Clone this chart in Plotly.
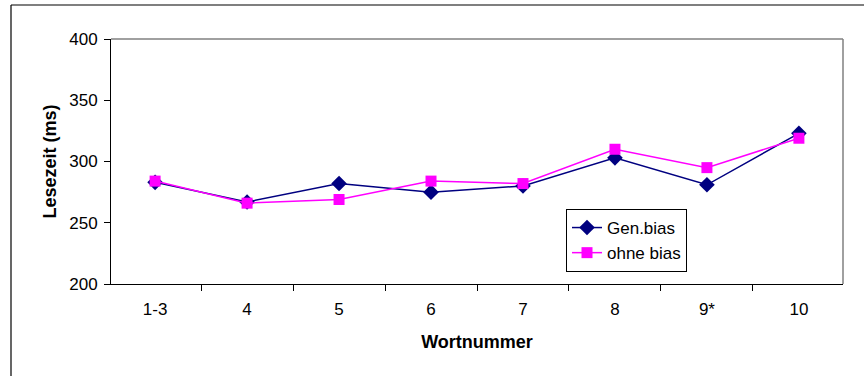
import plotly.graph_objects as go

categories = ["1-3", "4", "5", "6", "7", "8", "9*", "10"]
gen_bias = [283, 267, 282, 275, 280, 303, 281, 323]
ohne_bias = [284, 266, 269, 284, 282, 310, 295, 319]
y_ticks = [200, 250, 300, 350, 400]

W, H = 864, 376
L, R, T, B = 111, 21, 39, 92
pw, ph = W - L - R, H - T - B

def px(x):
    return (x - L) / pw

def py(y):
    return (H - B - y) / ph

fig = go.Figure()
fig.add_trace(go.Scatter(
    x=categories, y=gen_bias, name="Gen.bias", mode="lines+markers",
    line=dict(color="#000080", width=1.5),
    marker=dict(symbol="diamond", size=12, color="#000080"),
))
fig.add_trace(go.Scatter(
    x=categories, y=ohne_bias, name="ohne bias", mode="lines+markers",
    line=dict(color="#FF00FF", width=1.5),
    marker=dict(symbol="square", size=11, color="#FF00FF"),
))

font = "Liberation Sans, Arial, sans-serif"
fig.update_layout(
    width=W, height=H,
    margin=dict(l=L, r=R, t=T, b=B),
    paper_bgcolor="white", plot_bgcolor="white",
    font=dict(family=font, size=17, color="black"),
    showlegend=True,
    legend=dict(
        x=px(566), y=py(209), xanchor="left", yanchor="top",
        bordercolor="black", borderwidth=1, bgcolor="white",
        font=dict(size=17, family=font),
        tracegroupgap=0, itemwidth=30,
    ),
    xaxis=dict(
        type="category", tickson="boundaries", ticks="outside", ticklen=6,
        tickcolor="black", showline=True, linecolor="black", linewidth=1,
        showgrid=False, mirror=False, ticklabelstandoff=10,
        title=dict(text="<b>Wortnummer</b>", font=dict(size=18), standoff=16),
        tickfont=dict(size=17),
    ),
    yaxis=dict(
        range=[200, 400], tickvals=y_ticks, ticks="outside", ticklen=6,
        tickcolor="black", showline=True, linecolor="black", linewidth=1,
        showgrid=False, zeroline=False, ticklabelstandoff=3,
        title=dict(text="<b>Lesezeit (ms)</b>", font=dict(size=18), standoff=7),
        tickfont=dict(size=17),
    ),
)

# gray top and right plot border
fig.add_shape(type="line", xref="paper", yref="paper", x0=0, x1=1, y0=1, y1=1,
              line=dict(color="#808080", width=1.5))
fig.add_shape(type="line", xref="paper", yref="paper", x0=1, x1=1, y0=0, y1=1,
              line=dict(color="#808080", width=1.5))
# outer chart frame (top and left)
fig.add_shape(type="line", xref="paper", yref="paper", x0=px(11), x1=px(870), y0=py(5), y1=py(5),
              line=dict(color="black", width=1.2))
fig.add_shape(type="line", xref="paper", yref="paper", x0=px(11), x1=px(11), y0=py(5), y1=py(380),
              line=dict(color="black", width=1.2))

fig.write_html("out.html", config={"displayModeBar": False},
               post_script="document.body.style.margin='0';")
